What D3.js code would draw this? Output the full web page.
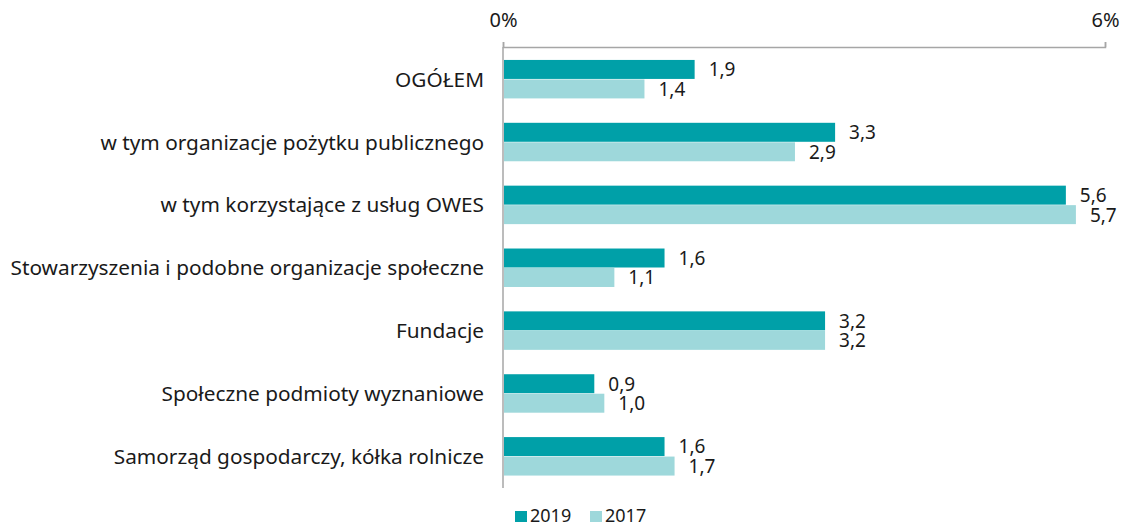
<!DOCTYPE html>
<html>
<head>
<meta charset="utf-8">
<script src="https://cdn.jsdelivr.net/npm/d3@7"></script>
<style>
  body { margin: 0; background: #fff; }
  svg text { font-family: "Noto Sans", "Open Sans", sans-serif; fill: #1a1a1a; }
</style>
</head>
<body>
<svg id="chart" width="1131" height="526"></svg>
<script>
// categories and values
let categories = [
  'OGÓŁEM',
  'w tym organizacje pożytku publicznego',
  'w tym korzystające z usług OWES',
  'Stowarzyszenia i podobne organizacje społeczne',
  'Fundacje',
  'Społeczne podmioty wyznaniowe',
  'Samorząd gospodarczy, kółka rolnicze'
]
let values2019 = [1.9, 3.3, 5.6, 1.6, 3.2, 0.9, 1.6]
let values2017 = [1.4, 2.9, 5.7, 1.1, 3.2, 1.0, 1.7]
let seriesNames = ['2019', '2017']
let tickValues = [0, 6]

let colors = {'2019': '#00a0a8', '2017': '#9ed8db'}

let svg = d3.select('#chart')

let x = d3.scaleLinear().domain([0, 6]).range([503, 1105])
let y = d3.scaleBand().domain(categories).range([48, 488]).paddingInner(0.38).paddingOuter(0.19)
let ySub = d3.scaleBand().domain(seriesNames).range([0, y.bandwidth()])

let rows = categories.map((c, i) => ({
  name: c,
  vals: [
    {series: '2019', value: values2019[i]},
    {series: '2017', value: values2017[i]}
  ]
}))

// top axis
let axis = svg.append('g')
  .attr('transform', 'translate(0,47)')
  .call(d3.axisTop(x).tickValues(tickValues).tickSize(5).tickFormat(d => d + '%').tickPadding(15))
axis.select('.domain').attr('stroke', '#a6a6a6').attr('stroke-width', 1.5)
axis.selectAll('.tick line').attr('stroke', '#a6a6a6').attr('stroke-width', 1.5)
axis.selectAll('.tick text').attr('font-size', 20).attr('fill', '#1a1a1a')
  .style('font-family', '"Noto Sans", sans-serif')

// vertical baseline
svg.append('line')
  .attr('x1', x(0)).attr('x2', x(0))
  .attr('y1', 47).attr('y2', 488)
  .attr('stroke', '#a6a6a6').attr('stroke-width', 1.5)

let group = svg.selectAll('g.row')
  .data(rows)
  .enter()
  .append('g')
  .attr('class', 'row')
  .attr('transform', d => 'translate(0,' + y(d.name) + ')')

group.append('text')
  .text(d => d.name)
  .attr('x', 484)
  .attr('y', y.bandwidth() / 2)
  .attr('dy', '0.35em')
  .attr('text-anchor', 'end')
  .attr('font-size', 20.8)

group.selectAll('rect')
  .data(d => d.vals)
  .enter()
  .append('rect')
  .attr('x', x(0) + 1)
  .attr('y', d => ySub(d.series))
  .attr('width', d => x(d.value) - x(0))
  .attr('height', ySub.bandwidth() - 0.5)
  .attr('fill', d => colors[d.series])

group.selectAll('text.val')
  .data(d => d.vals)
  .enter()
  .append('text')
  .attr('class', 'val')
  .text(d => d3.format('.1f')(d.value).replace('.', ','))
  .attr('x', d => x(d.value) + 15)
  .attr('y', d => ySub(d.series) + ySub.bandwidth() / 2)
  .attr('dy', '0.35em')
  .attr('font-size', 19)

// legend
let legend = svg.append('g').attr('transform', 'translate(515,510)')
let items = legend.selectAll('g')
  .data(seriesNames)
  .enter()
  .append('g')
  .attr('transform', (d, i) => 'translate(' + (i * 75) + ',0)')
items.append('rect')
  .attr('y', 1)
  .attr('width', 12).attr('height', 11)
  .attr('fill', d => colors[d])
items.append('text')
  .text(d => d)
  .attr('x', 15)
  .attr('y', 12)
  .attr('font-size', 18)
</script>
</body>
</html>
